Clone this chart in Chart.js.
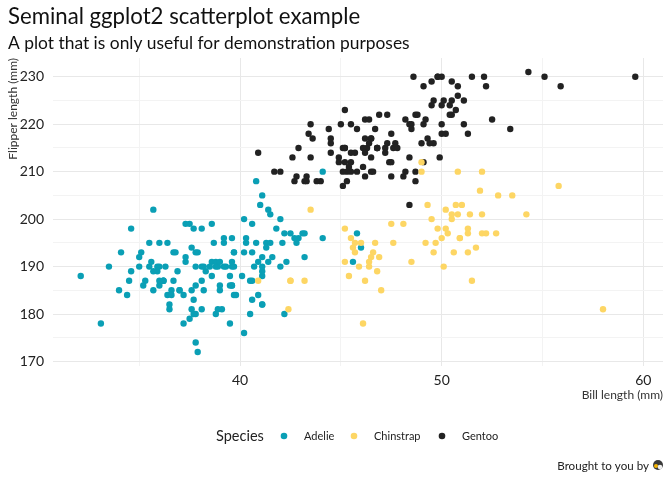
<!DOCTYPE html>
<html><head><meta charset="utf-8">
<script src="https://cdn.jsdelivr.net/npm/chart.js@4"></script>
<style>html,body{margin:0;padding:0;background:#fff}#wrap{width:672px;height:480px}</style>
</head><body><div id="wrap"><canvas id="c" width="672" height="480"></canvas></div>
<script>
const FONT = 'Lato';
const chartTitle = 'Seminal ggplot2 scatterplot example';
const chartSubtitle = 'A plot that is only useful for demonstration purposes';
const xTitle = 'Bill length (mm)';
const yTitle = 'Flipper length (mm)';
const legendTitle = 'Species';
const caption = 'Brought to you by';
const species = ['Adelie', 'Chinstrap', 'Gentoo'];
const speciesColors = ['#0a9fb5', '#fdd664', '#222222'];
const xTicks = [35, 40, 45, 50, 55, 60];
const yTicks = [170, 175, 180, 185, 190, 195, 200, 205, 210, 215, 220, 225, 230];

const adelieBill = [39.1,39.5,40.3,36.7,39.3,38.9,39.2,34.1,42.0,37.8,37.8,41.1,38.6,34.6,36.6,38.7,42.5,34.4,46.0,37.8,37.7,35.9,38.2,38.8,35.3,40.6,40.5,37.9,40.5,39.5,37.2,39.5,40.9,36.4,39.2,38.8,42.2,37.6,39.8,36.5,40.8,36.0,44.1,37.0,39.6,41.1,37.5,36.0,42.3,39.6,40.1,35.0,42.0,34.5,41.4,39.0,40.6,36.5,37.6,35.7,41.3,37.6,41.1,36.4,41.6,35.5,41.1,35.9,41.8,33.5,39.7,39.6,45.8,35.5,42.8,40.9,37.2,36.2,42.1,34.6,42.9,36.7,35.1,37.3,41.3,36.3,36.9,38.3,38.9,35.7,41.1,34.0,39.6,36.2,40.8,38.1,40.3,33.1,43.2,35.0,41.0,37.7,37.8,37.9,39.7,38.6,38.2,38.1,43.2,38.1,45.6,39.7,42.2,39.6,42.7,38.6,37.3,35.7,41.1,36.2,37.7,40.2,41.4,35.2,40.6,38.8,41.5,39.0,44.1,38.5,43.1,36.8,37.5,38.1,41.1,35.6,40.2,37.0,39.7,40.2,40.6,32.1,40.7,37.3,39.0,39.2,36.6,36.0,37.8,36.0,41.5];
const adelieFlipper = [181,186,195,193,190,181,195,193,190,186,180,182,191,198,185,195,197,184,194,174,180,189,185,180,187,183,187,172,180,178,178,188,184,195,196,190,180,181,184,182,195,186,196,185,190,182,179,190,191,186,188,190,200,187,191,186,193,181,194,185,195,185,192,184,192,195,188,190,198,190,190,196,197,190,195,191,184,187,195,189,196,187,193,191,194,190,189,189,190,202,205,185,186,187,208,190,196,178,192,192,203,183,190,193,184,199,190,181,197,198,191,193,197,191,196,188,199,189,189,187,198,176,202,186,199,191,195,191,210,190,197,193,199,187,190,191,200,185,193,193,187,188,190,192,185,190,184,195,193,187,201];

const chinstrapBill = [46.5,50.0,51.3,45.4,52.7,45.2,46.1,51.3,46.0,51.3,46.6,51.7,47.0,52.0,45.9,50.5,50.3,58.0,46.4,49.2,42.4,48.5,43.2,50.6,46.7,52.0,50.5,49.5,46.4,52.8,40.9,54.2,42.5,51.0,49.7,47.5,47.6,52.0,46.9,53.5,49.0,46.2,50.9,45.5,50.9,50.8,50.1,49.0,51.5,49.8,48.1,51.4,45.7,50.7,42.5,52.2,45.2,49.3,50.2,45.6,51.9,46.8,45.7,55.8,43.5,49.6,50.8,50.2];
const chinstrapFlipper = [192,196,193,188,197,198,178,197,195,198,193,194,185,201,190,201,197,181,190,195,181,191,187,193,195,197,200,200,191,205,187,201,187,203,195,199,195,210,192,205,210,187,196,196,196,201,190,212,187,198,199,201,193,203,187,197,191,203,202,194,206,189,195,207,202,193,210,198];

const gentooBill = [46.1,50.0,48.7,50.0,47.6,46.5,45.4,46.7,43.3,46.8,40.9,49.0,45.5,48.4,45.8,49.3,42.0,49.2,46.2,48.7,50.2,45.1,46.5,46.3,42.9,46.1,44.5,47.8,48.2,50.0,47.3,42.8,45.1,59.6,49.1,48.4,42.6,44.4,44.0,48.7,42.7,49.6,45.3,49.6,50.5,43.6,45.5,50.5,44.9,45.2,46.6,48.5,45.1,50.1,46.5,45.0,43.8,45.5,43.2,50.4,45.3,46.2,45.7,54.3,45.8,49.8,46.2,49.5,43.5,50.7,47.7,46.4,48.2,46.5,46.4,48.6,47.5,51.1,45.2,45.2,49.1,52.5,47.4,50.0,44.9,50.8,43.4,51.3,47.5,52.1,47.5,52.2,45.5,49.5,44.5,50.8,49.4,46.9,48.4,51.1,48.5,55.9,47.2,49.1,47.3,46.8,41.7,53.4,43.3,48.1,50.5,49.8,43.5,51.5,46.2,55.1,44.5,48.8,47.2,46.8,50.4,45.2,49.9];
const gentooFlipper = [211,230,210,218,215,210,211,219,209,215,214,216,214,213,210,217,210,221,209,222,218,215,213,215,215,215,216,215,210,220,222,209,207,230,220,220,213,219,208,208,208,225,210,216,222,217,210,225,213,215,210,220,210,225,217,220,208,220,208,224,208,221,214,231,219,230,214,229,220,223,216,221,221,217,216,230,209,220,215,223,212,221,212,224,212,228,218,218,212,230,218,228,212,224,214,226,216,222,203,225,219,228,215,228,216,215,210,219,208,209,229,230,213,230,217,230,217,222,214,215,222,212,213];

const bills = [adelieBill, chinstrapBill, gentooBill];
const flippers = [adelieFlipper, chinstrapFlipper, gentooFlipper];
const drawOrder = [3, 1, 2]; // Chinstrap on top of Gentoo on top of Adelie

function pts(xs, ys) { return xs.map((x, i) => ({ x: x, y: ys[i] })); }

const allX = [].concat(adelieBill, chinstrapBill, gentooBill);
const allY = [].concat(adelieFlipper, chinstrapFlipper, gentooFlipper);
const xMinD = Math.min(...allX), xMaxD = Math.max(...allX);
const yMinD = Math.min(...allY), yMaxD = Math.max(...allY);
const xPad = (xMaxD - xMinD) * 0.05, yPad = (yMaxD - yMinD) * 0.05;

const datasets = species.map((s, i) => ({
  label: s,
  data: pts(bills[i], flippers[i]),
  backgroundColor: speciesColors[i],
  borderWidth: 0,
  pointRadius: 3.2,
  pointHoverRadius: 3.2,
  order: drawOrder[i]
}));

const gridColor = ctx => (ctx.tick && ctx.tick.value % 10 === 0) ? '#e8e8e8' : '#f3f3f3';

const decor = {
  id: 'decor',
  afterDraw(chart) {
    const ctx = chart.ctx;
    ctx.save();
    ctx.fillStyle = '#111';
    ctx.textBaseline = 'alphabetic';
    ctx.textAlign = 'left';
    ctx.font = '22.2px ' + FONT;
    ctx.fillText(chartTitle, 8, 24);
    ctx.font = '17.4px ' + FONT;
    ctx.fillText(chartSubtitle, 8, 49);
    // legend
    ctx.textBaseline = 'middle';
    ctx.fillStyle = '#222';
    ctx.font = '14.5px ' + FONT;
    ctx.fillText(legendTitle, 216, 436);
    const dotX = [284, 354, 442];
    ctx.font = '11px ' + FONT;
    species.forEach((s, i) => {
      ctx.beginPath();
      ctx.fillStyle = speciesColors[i];
      ctx.arc(dotX[i], 436, 3.3, 0, Math.PI * 2);
      ctx.fill();
      ctx.fillStyle = '#222';
      ctx.fillText(s, dotX[i] + 20, 436);
    });
    // caption
    ctx.textAlign = 'right';
    ctx.font = '11.6px ' + FONT;
    ctx.fillText(caption, 649, 466);
    // small penguin icon
    ctx.beginPath(); ctx.fillStyle = '#3a3a3a'; ctx.arc(658, 465, 5, 0, Math.PI * 2); ctx.fill();
    ctx.beginPath(); ctx.fillStyle = '#f4b400'; ctx.arc(656, 466, 2, 0, Math.PI * 2); ctx.fill();
    ctx.beginPath(); ctx.fillStyle = '#eeeeee'; ctx.arc(660, 467, 2.3, 0, Math.PI * 2); ctx.fill();
    ctx.restore();
  }
};

new Chart(document.getElementById('c'), {
  type: 'scatter',
  data: { datasets: datasets },
  plugins: [decor],
  options: {
    responsive: false,
    animation: false,
    events: [],
    layout: { padding: { top: 58, right: 9, bottom: 78, left: 0 } },
    plugins: { legend: { display: false }, tooltip: { enabled: false }, title: { display: false } },
    scales: {
      x: {
        type: 'linear',
        min: xMinD - xPad,
        max: xMaxD + xPad,
        afterBuildTicks: s => { s.ticks = xTicks.map(v => ({ value: v })); },
        afterFit: s => { s.height = 36; },
        border: { display: false },
        grid: { color: gridColor, lineWidth: 1, drawTicks: false },
        ticks: {
          padding: 6,
          color: '#222',
          font: { family: FONT, size: 14 },
          callback: v => (v % 10 === 0 ? String(v) : '')
        },
        title: {
          display: true, text: xTitle, align: 'end', color: '#333',
          font: { family: FONT, size: 12 }, padding: { top: 0, bottom: 0 }
        }
      },
      y: {
        type: 'linear',
        min: yMinD - yPad,
        max: yMaxD + yPad,
        afterBuildTicks: s => { s.ticks = yTicks.map(v => ({ value: v })); },
        afterFit: s => { s.width = 53; },
        border: { display: false },
        grid: { color: gridColor, lineWidth: 1, drawTicks: false },
        ticks: {
          padding: 9,
          color: '#222',
          font: { family: FONT, size: 14 },
          callback: v => (v % 10 === 0 ? String(v) : '')
        },
        title: {
          display: true, text: yTitle, align: 'end', color: '#333',
          font: { family: FONT, size: 12 }, padding: { top: 6, bottom: 0 }
        }
      }
    }
  }
});
</script></body></html>
